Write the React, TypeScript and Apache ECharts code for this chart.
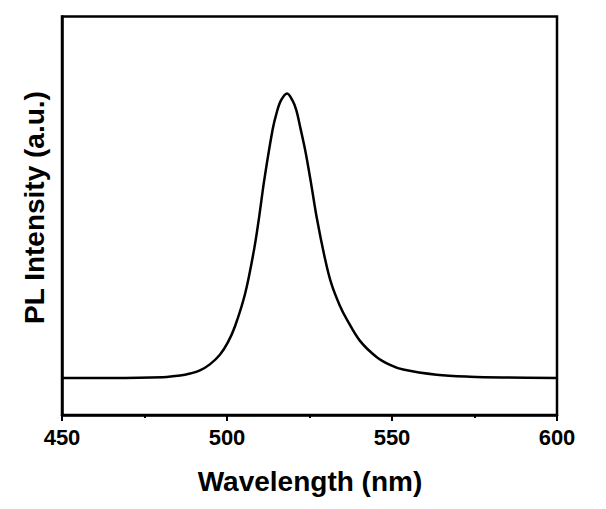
import React, { useEffect, useRef } from "react";
import * as echarts from "echarts";

const wavelengths = [
  450, 465, 480.6, 485.8, 488.8, 491.8, 494.8, 497.9, 500.3, 502.4, 505.5,
  508.2, 509.6, 511.3, 513.8, 515.1, 516.4, 518.2, 519.8, 521.0, 522.3, 523.8,
  525.4, 527.2, 529.7, 531.6, 534.2, 536.3, 540.3, 545.4, 549.4, 553.4, 563.5,
  573.6, 585, 600,
];
const intensity = [
  0.093, 0.093, 0.095, 0.099, 0.104, 0.112, 0.127, 0.152, 0.183, 0.222, 0.305,
  0.415, 0.489, 0.59, 0.715, 0.76, 0.79, 0.807, 0.79, 0.765, 0.718, 0.66,
  0.585, 0.495, 0.392, 0.33, 0.274, 0.24, 0.186, 0.145, 0.126, 0.114, 0.101,
  0.096, 0.094, 0.093,
];
const xName = "Wavelength (nm)";
const yName = "PL Intensity (a.u.)";

const FONT = "'Liberation Sans', Arial, Helvetica, sans-serif";

export default function App() {
  const ref = useRef<HTMLDivElement>(null);
  useEffect(() => {
    if (!ref.current) return;
    const chart = echarts.init(ref.current, undefined, { renderer: "svg" });
    chart.setOption({
      animation: false,
      backgroundColor: "#fff",
      grid: {
        left: 62,
        right: 49,
        top: 16.5,
        bottom: 94,
        show: true,
        borderColor: "#000",
        borderWidth: 2.5,
      },
      xAxis: {
        type: "value",
        min: 450,
        max: 600,
        interval: 50,
        axisLine: { show: true, lineStyle: { color: "#000", width: 2.5 } },
        axisTick: { show: true, inside: false, length: 6, lineStyle: { color: "#000", width: 2 } },
        minorTick: { show: true, splitNumber: 2, length: 3, lineStyle: { color: "#000", width: 2 } },
        splitLine: { show: false },
        axisLabel: {
          color: "#000",
          fontSize: 22,
          fontWeight: "bold",
          fontFamily: FONT,
          margin: 11,
        },
      },
      yAxis: {
        type: "value",
        min: 0,
        max: 1,
        axisLine: { show: true, lineStyle: { color: "#000", width: 2.5 } },
        axisTick: { show: false },
        axisLabel: { show: false },
        splitLine: { show: false },
      },
      graphic: [
        {
          type: "text",
          x: 310,
          y: 481,
          style: {
            text: xName,
            fontSize: 28,
            fontWeight: "bold",
            fontFamily: FONT,
            fill: "#000",
            align: "center",
            verticalAlign: "middle",
          },
        },
        {
          type: "text",
          x: 34,
          y: 207.5,
          rotation: Math.PI / 2,
          style: {
            text: yName,
            fontSize: 28,
            fontWeight: "bold",
            fontFamily: FONT,
            fill: "#000",
            align: "center",
            verticalAlign: "middle",
          },
        },
      ],
      series: [
        {
          type: "line",
          data: wavelengths.map((w, i) => [w, intensity[i]]),
          smooth: 0.35,
          showSymbol: false,
          lineStyle: { color: "#000", width: 2.5 },
        },
      ],
    });
    return () => chart.dispose();
  }, []);
  return (
    <div
      ref={ref}
      style={{ position: "fixed", left: 0, top: 0, width: 606, height: 509 }}
    />
  );
}
